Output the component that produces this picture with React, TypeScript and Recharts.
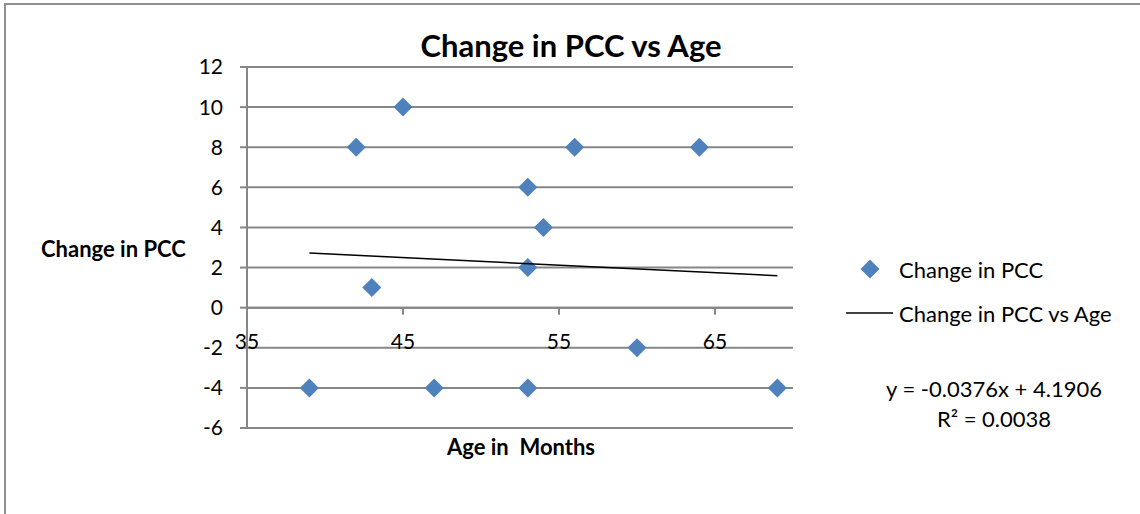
import React from 'react';
import {
  ScatterChart,
  Scatter,
  XAxis,
  YAxis,
  CartesianGrid,
  ReferenceLine,
  Legend
} from 'recharts';

// Данные
const ages = [39, 42, 43, 45, 47, 53, 53, 53, 54, 56, 60, 64, 69];
const pccChange = [-4, 8, 1, 10, -4, 6, 2, -4, 4, 8, -2, 8, -4];
const xTicks = [35, 45, 55, 65];
const yTicks = [-6, -4, -2, 0, 2, 4, 6, 8, 10, 12];

// Линия тренда из подписи на графике
const trendSlope = -0.0376;
const trendIntercept = 4.1906;
const trendRange = [39, 69];

const X_MIN = 35;
const X_MAX = 70;
const Y_MIN = -6;
const Y_MAX = 12;

const FONT = 'Lato, "Open Sans", sans-serif';
const GRID = '#868686';
const BLUE = '#4F81BD';

const PLOT_H = 361;
// сдвиг подписей оси X вверх до линии y = 0
const ZERO_SHIFT = (PLOT_H * (0 - Y_MIN)) / (Y_MAX - Y_MIN);

const points = ages.map((age, i) => ({ age, pcc: pccChange[i] }));
const trend = trendRange.map(x => ({ age: x, pcc: trendSlope * x + trendIntercept }));

const Diamond = (props: any) => {
  const { cx, cy } = props;
  const r = 9.5;
  return (
    <path
      d={`M${cx},${cy - r}L${cx + r},${cy}L${cx},${cy + r}L${cx - r},${cy}Z`}
      fill={BLUE}
    />
  );
};

const XTick = (props: any) => {
  const { x, y, payload } = props;
  const y0 = y - ZERO_SHIFT;
  return (
    <g>
      <line x1={x} x2={x} y1={y0} y2={y0 + 7} stroke={GRID} strokeWidth={2} />
      <text
        x={x}
        y={y0 + 33}
        textAnchor="middle"
        dominantBaseline="central"
        fontFamily={FONT}
        fontSize={21}
        fill="#000"
      >
        {payload.value}
      </text>
    </g>
  );
};

const LegendContent = () => (
  <div style={{ fontFamily: FONT, fontSize: 22, color: '#000' }}>
    <div style={{ display: 'flex', alignItems: 'center', height: 44 }}>
      <svg width={53} height={22}>
        <path d="M24,1.5L33.5,11L24,20.5L14.5,11Z" fill={BLUE} />
      </svg>
      <span>Change in PCC</span>
    </div>
    <div style={{ display: 'flex', alignItems: 'center', height: 44 }}>
      <svg width={53} height={22}>
        <line x1={0} x2={47} y1={11} y2={11} stroke="#000" strokeWidth={1.5} />
      </svg>
      <span>Change in PCC vs Age</span>
    </div>
  </div>
);

export default function App() {
  return (
    <div
      style={{
        position: 'absolute',
        left: 0,
        top: 0,
        width: 1140,
        height: 514,
        overflow: 'hidden',
        background: '#fff',
        fontFamily: FONT
      }}
    >
      <div
        style={{
          position: 'absolute',
          left: 4,
          top: 3,
          width: 1300,
          height: 700,
          border: '2px solid #8f8f8f'
        }}
      />
      <div
        style={{
          position: 'absolute',
          left: 571,
          top: 26,
          transform: 'translateX(-50%)',
          fontSize: 31,
          fontWeight: 'bold',
          whiteSpace: 'pre'
        }}
      >
        Change in PCC vs Age
      </div>
      <div
        style={{
          position: 'absolute',
          left: 41,
          top: 235,
          fontSize: 22,
          fontWeight: 'bold',
          whiteSpace: 'pre'
        }}
      >
        Change in PCC
      </div>
      <div
        style={{
          position: 'absolute',
          left: 521,
          top: 433,
          transform: 'translateX(-50%)',
          fontSize: 22,
          fontWeight: 'bold',
          whiteSpace: 'pre'
        }}
      >
        Age in  Months
      </div>
      <div
        style={{
          position: 'absolute',
          left: 994,
          top: 374,
          transform: 'translateX(-50%)',
          fontSize: 22,
          lineHeight: '30px',
          textAlign: 'center',
          whiteSpace: 'pre'
        }}
      >
        <div>y = -0.0376x + 4.1906</div>
        <div>R² = 0.0038</div>
      </div>
      <div style={{ position: 'absolute', left: 0, top: 0 }}>
        <ScatterChart
          width={1140}
          height={514}
          margin={{ top: 67, right: 347, bottom: 56, left: 167 }}
        >
          <CartesianGrid horizontal vertical={false} stroke={GRID} strokeWidth={2} />
          <XAxis
            type="number"
            dataKey="age"
            domain={[X_MIN, X_MAX]}
            ticks={xTicks}
            height={30}
            axisLine={false}
            tickLine={false}
            tickSize={0}
            tickMargin={0}
            tick={<XTick />}
            interval={0}
          />
          <YAxis
            type="number"
            dataKey="pcc"
            domain={[Y_MIN, Y_MAX]}
            ticks={yTicks}
            width={80}
            axisLine={{ stroke: GRID, strokeWidth: 2 }}
            tickLine={{ stroke: GRID, strokeWidth: 2 }}
            tickSize={7}
            tickMargin={17}
            interval={0}
            tick={{ fontFamily: FONT, fontSize: 21, fill: '#000' }}
          />
          <ReferenceLine y={0} stroke={GRID} strokeWidth={2} />
          <Scatter
            name="Change in PCC"
            data={points}
            shape={<Diamond />}
            isAnimationActive={false}
          />
          <Scatter
            name="Change in PCC vs Age"
            data={trend}
            line={{ stroke: '#000', strokeWidth: 1.5 }}
            shape={() => <g />}
            isAnimationActive={false}
          />
          <Legend
            layout="horizontal"
            align="center"
            verticalAlign="middle"
            content={<LegendContent />}
            wrapperStyle={{ left: 846, top: 247, width: 290 }}
          />
        </ScatterChart>
      </div>
    </div>
  );
}
